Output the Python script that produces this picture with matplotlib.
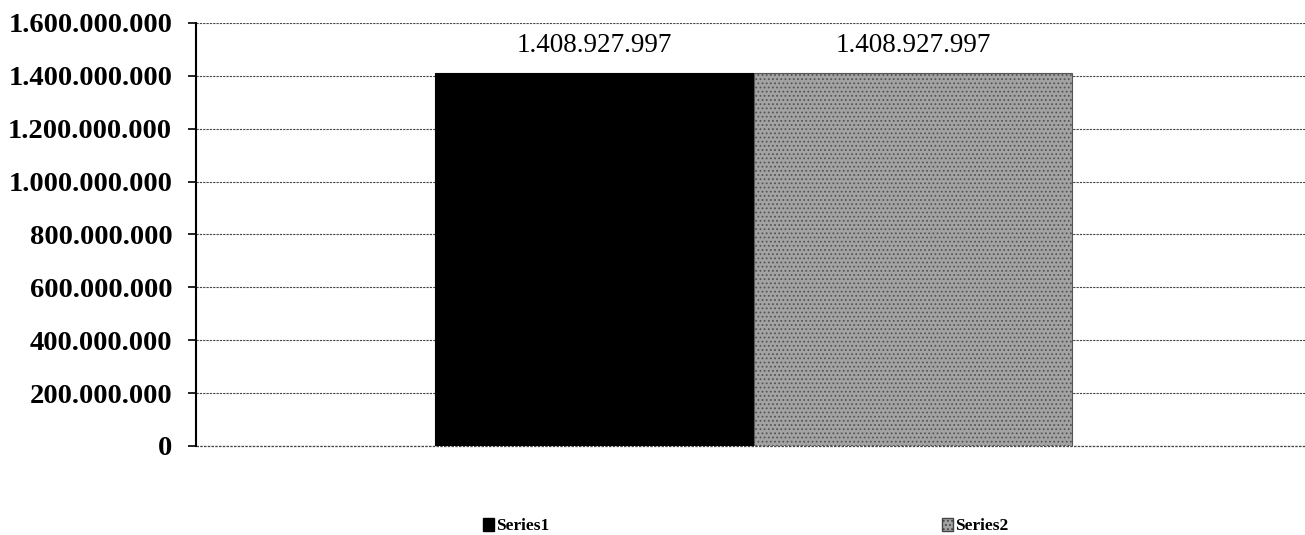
import matplotlib
matplotlib.use("Agg")
import matplotlib.pyplot as plt
from matplotlib.patches import Patch
from matplotlib.ticker import FuncFormatter

series = ["Series1", "Series2"]
values = [1408927997, 1408927997]
yticks = [0, 200000000, 400000000, 600000000, 800000000, 1000000000,
          1200000000, 1400000000, 1600000000]

plt.rcParams['font.family'] = ['Liberation Serif', 'DejaVu Serif']
plt.rcParams['hatch.color'] = '#7a7a7a'
plt.rcParams['hatch.linewidth'] = 0.8

fig = plt.figure(figsize=(13.05, 5.35), dpi=100)
ax = fig.add_axes([0.150, 0.1664, 0.850, 0.7907])

w = 0.2872
center = 0.003
offsets = [center - w / 2, center + w / 2]
styles = [dict(facecolor='#000000', edgecolor='#000000'),
          dict(facecolor='#a3a3a3', edgecolor='#555555', hatch='....')]
for s, v, o, st in zip(series, values, offsets, styles):
    ax.bar(o, v, width=w, linewidth=0.8, label=s, zorder=3, **st)
    ax.annotate(f"{v:,}".replace(",", "."), xy=(o, v), xytext=(0, 11),
                textcoords='offset points', ha='center', va='bottom',
                fontsize=19.5, color='black')

ax.set_xlim(-0.5, 0.5)
ax.set_ylim(0, 1600000000)
ax.set_yticks(yticks)
ax.yaxis.set_major_formatter(FuncFormatter(lambda x, p: f"{int(x):,}".replace(",", ".")))
for lab in ax.get_yticklabels():
    lab.set_fontweight('bold')
    lab.set_fontsize(20.5)
ax.tick_params(axis='y', direction='out', length=6, width=1.2, pad=11)
ax.set_xticks([])
ax.grid(axis='y', linestyle=(0, (2, 1)), color='#444444', linewidth=0.8, zorder=0)
ax.axhline(yticks[0], linestyle=(0, (2, 1)), color='#444444', linewidth=0.9,
           zorder=1, clip_on=False)
for sp in ['top', 'right', 'bottom']:
    ax.spines[sp].set_visible(False)
ax.spines['left'].set_linewidth(1.5)

handles = [Patch(facecolor='#000000', edgecolor='#000000'),
           Patch(facecolor='#a3a3a3', edgecolor='#444444', hatch='....')]
fig.legend(handles, series, loc='center', bbox_to_anchor=(0.5716, 0.0168), ncol=2,
           frameon=False, handlelength=0.6, handleheight=0.8, handletextpad=0.15,
           columnspacing=22.6, borderpad=0, prop={'size': 12.5, 'weight': 'bold'})

fig.savefig("out.png", dpi=100)
